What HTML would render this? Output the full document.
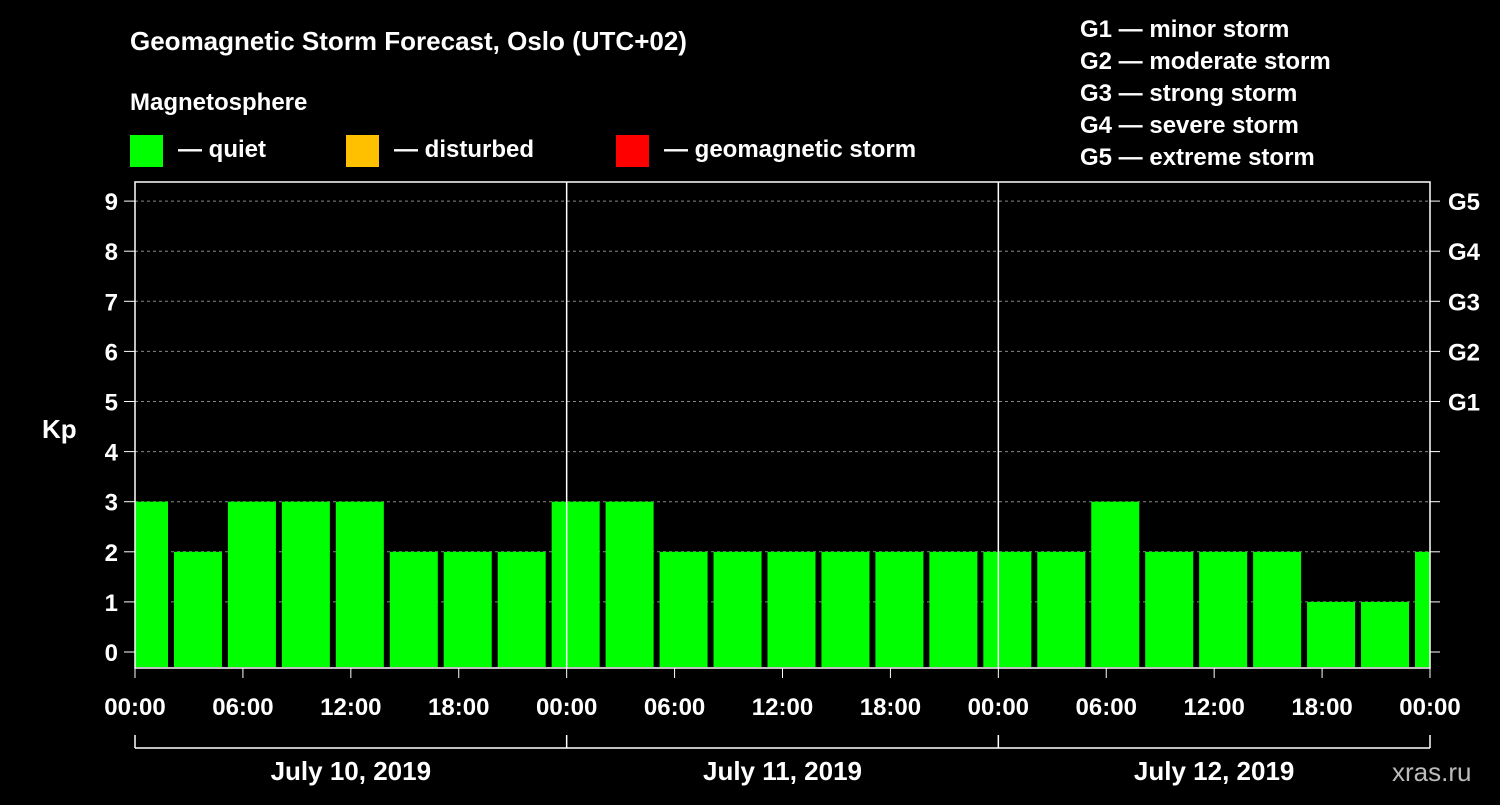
<!DOCTYPE html>
<html><head><meta charset="utf-8"><style>
body{margin:0;background:#000;width:1500px;height:800px;overflow:hidden}
svg text{font-family:"Liberation Sans",Arial,sans-serif;font-weight:bold;fill:#fff}
</style></head><body>
<svg id="chart" width="1500" height="800" xmlns="http://www.w3.org/2000/svg">
<text x="130" y="50" font-size="26">Geomagnetic Storm Forecast, Oslo (UTC+02)</text>
<text x="130" y="110" font-size="24">Magnetosphere</text>
<g><rect x="130" y="135" width="33" height="32" fill="#00ff00"/><text x="178" y="157" font-size="24">— quiet</text></g>
<g><rect x="346" y="135" width="33" height="32" fill="#ffc000"/><text x="394" y="157" font-size="24">— disturbed</text></g>
<g><rect x="616" y="135" width="33" height="32" fill="#ff0000"/><text x="664" y="157" font-size="24">— geomagnetic storm</text></g>
<g font-size="24">
<text x="1080" y="37">G1 — minor storm</text><text x="1080" y="69">G2 — moderate storm</text><text x="1080" y="101">G3 — strong storm</text><text x="1080" y="133">G4 — severe storm</text><text x="1080" y="165">G5 — extreme storm</text></g>
<text x="42" y="438" font-size="26">Kp</text>
<text x="1392" y="781" font-size="26" fill="#aaa" style="fill:#bbb;font-weight:normal">xras.ru</text>
<g id="grid"></g><g id="bars"></g><g id="axes"></g>
</svg>
<script>
const kpValues=[3,2,3,3,3,2,2,2,3,3,2,2,2,2,2,2,2,2,3,2,2,2,1,1,2];
const yTicks=[0,1,2,3,4,5,6,7,8,9];
const gLabels=["G1","G2","G3","G4","G5"];
const xTickLabels=["00:00","06:00","12:00","18:00","00:00","06:00","12:00","18:00","00:00","06:00","12:00","18:00","00:00"];
const dayLabels=["July 10, 2019","July 11, 2019","July 12, 2019"];
const X0=135,X1=1430,PX_PER_H=(1430-135)/72;
const yS=v=>652-v*50.1;const xS=h=>X0+h*PX_PER_H;
const NS="http://www.w3.org/2000/svg";
function mk(tag,attrs,parent,txt){const e=document.createElementNS(NS,tag);for(const k in attrs)e.setAttribute(k,attrs[k]);if(txt!==undefined)e.textContent=txt;parent.appendChild(e);return e;}
const grid=document.getElementById('grid'),bars=document.getElementById('bars'),axes=document.getElementById('axes');
yTicks.forEach(v=>{if(v>0){const l=mk('line',{x1:X0,x2:X1,y1:yS(v),y2:yS(v),stroke:'#888','stroke-dasharray':'3,3','stroke-width':1},grid);

}
const t=mk('text',{x:118,y:yS(v)+9,'font-size':24,'text-anchor':'end'},axes,String(v));


mk('line',{x1:124,x2:X0,y1:yS(v),y2:yS(v),stroke:'#fff','stroke-width':1},axes);
mk('line',{x1:X1,x2:X1+10,y1:yS(v),y2:yS(v),stroke:'#fff','stroke-width':1},axes);});
gLabels.forEach((g,i)=>{const t=mk('text',{x:1448,y:yS(5+i)+9,'font-size':24},axes,g);

});
kpValues.forEach((v,k)=>{const c=0.5+3*k;let a=xS(c)-24,b=xS(c)+24;a=Math.max(a,X0);b=Math.min(b,X1);
const col=v>=5?'#ff0000':(v>=4?'#ffc000':'#00ff00');
const r=mk('rect',{x:a,y:yS(v),width:b-a,height:yS(-0.3)-yS(v),fill:col},bars);

});
mk('rect',{x:X0,y:182,width:X1-X0,height:486,fill:'none',stroke:'#fff','stroke-width':1.5},axes);
[24,48].forEach(h=>mk('line',{x1:xS(h),x2:xS(h),y1:182,y2:668,stroke:'#fff','stroke-width':1.5},axes));
xTickLabels.forEach((s,i)=>{const x=xS(i*6);mk('line',{x1:x,x2:x,y1:668,y2:678,stroke:'#fff'},axes);
const t=mk('text',{x:x,y:715,'font-size':24,'text-anchor':'middle'},axes,s);

});
mk('line',{x1:X0,x2:X1,y1:748,y2:748,stroke:'#fff','stroke-width':1.5},axes);
[0,24,48,72].forEach(h=>mk('line',{x1:xS(h),x2:xS(h),y1:735,y2:748,stroke:'#fff','stroke-width':1.5},axes));
dayLabels.forEach((d,i)=>{const t=mk('text',{x:xS(12+24*i),y:780,'font-size':26,'text-anchor':'middle'},axes,d);

});
</script>
</body></html>
